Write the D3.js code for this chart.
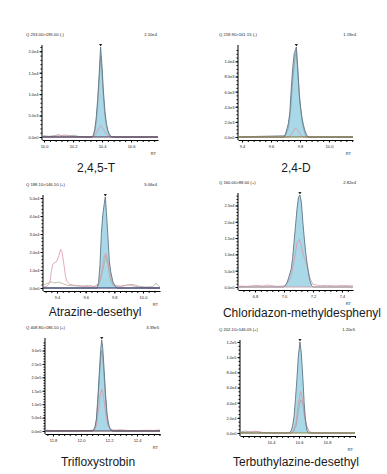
<!DOCTYPE html>
<html>
<head>
<meta charset="utf-8">
<script src="https://cdnjs.cloudflare.com/ajax/libs/d3/7.8.5/d3.min.js"></script>
<style>
body{margin:0;background:#fff;}
svg{display:block;font-family:"Liberation Sans",Arial,sans-serif;}
</style>
</head>
<body>
<svg id="chart" width="387" height="474"></svg>
<script>
// compound names, MRM transitions and header maxima
var titles = ["2,4,5-T", "2,4-D", "Atrazine-desethyl", "Chloridazon-methyldesphenyl", "Trifloxystrobin", "Terbuthylazine-desethyl"];
var transitions = ["Q 253.00>195.00 (-)", "Q 218.90>161.15 (-)", "Q 188.10>146.10 (+)", "Q 160.00>88.00 (+)", "Q 408.80>186.10 (+)", "Q 202.10>146.05 (+)"];
var maxLabels = ["2.10e4", "1.19e4", "5.06e4", "2.82e4", "3.39e5", "1.20e5"];
var yMax = [2.10e4, 1.19e4, 5.06e4, 2.82e4, 3.39e5, 1.20e5];
var yTickStep = [5e3, 2e3, 1e4, 5e3, 5e4, 2e4];
var rtRange = [[9.986, 10.786], [9.372, 10.166], [9.302, 10.119], [6.683, 7.476], [11.743, 12.564], [10.179, 11.0]];
var xTicks = [[10.0, 10.2, 10.4, 10.6], [9.4, 9.6, 9.8, 10.0], [9.4, 9.6, 9.8, 10.0], [6.8, 7.0, 7.2, 7.4], [11.8, 12.0, 12.2, 12.4], [10.4, 10.6, 10.8]];
var apexRT = [10.39, 9.775, 9.737, 7.11, 12.148, 10.607];

// [RT, intensity] — quantifier (filled), pink qualifier, grey trace
var quant1 = [[9.986,0],[10.33,0],[10.34,400],[10.35,1800],[10.36,4500],[10.37,8800],[10.38,14500],[10.39,21000],[10.40,16500],[10.41,10500],[10.42,6000],[10.43,3200],[10.44,1600],[10.45,700],[10.46,250],[10.47,0],[10.786,0]];
var pink1 = [[9.986,200],[10.05,100],[10.10,300],[10.13,200],[10.17,250],[10.20,100],[10.33,0],[10.35,300],[10.37,1400],[10.39,2700],[10.41,1800],[10.43,700],[10.45,150],[10.47,0],[10.786,0]];
var grey1 = [[9.986,300],[10.03,150],[10.07,300],[10.10,550],[10.12,350],[10.15,450],[10.18,300],[10.21,400],[10.24,100],[10.30,0],[10.34,200],[10.35,1200],[10.36,3500],[10.37,7500],[10.38,13000],[10.39,19000],[10.40,14500],[10.41,9000],[10.42,5000],[10.43,2500],[10.44,1200],[10.45,400],[10.46,100],[10.48,0],[10.786,0]];

var quant2 = [[9.372,0],[9.69,0],[9.70,400],[9.71,1100],[9.72,1800],[9.73,3300],[9.74,6500],[9.75,9200],[9.76,11000],[9.775,11900],[9.785,9000],[9.795,5600],[9.805,3800],[9.815,2400],[9.825,1500],[9.835,800],[9.845,300],[9.857,0],[10.166,0]];
var pink2 = [[9.372,0],[9.72,0],[9.74,300],[9.755,800],[9.77,1200],[9.785,900],[9.80,400],[9.82,0],[10.166,0]];
var grey2 = [[9.372,0],[9.70,200],[9.72,1200],[9.735,3500],[9.75,7500],[9.765,10500],[9.775,11300],[9.785,8500],[9.80,4500],[9.815,2000],[9.83,700],[9.845,0],[10.166,0]];

var quant3 = [[9.302,0],[9.68,0],[9.69,3000],[9.70,13000],[9.71,31000],[9.72,41000],[9.73,47000],[9.737,50600],[9.745,42000],[9.755,29000],[9.765,15000],[9.775,9000],[9.79,3500],[9.805,1000],[9.82,0],[10.119,0]];
var pink3 = [[9.302,500],[9.33,1000],[9.35,3000],[9.36,9000],[9.37,13000],[9.38,14000],[9.395,14500],[9.41,17000],[9.425,21500],[9.435,20000],[9.45,12000],[9.46,6000],[9.47,3500],[9.49,2000],[9.52,1500],[9.56,1200],[9.60,800],[9.65,600],[9.69,1500],[9.71,8000],[9.73,18000],[9.74,19400],[9.755,15000],[9.77,8000],[9.785,3500],[9.80,1500],[9.85,800],[9.90,1800],[9.95,800],[10.0,300],[10.05,0],[10.119,0]];
var grey3 = [[9.302,1500],[9.33,2500],[9.36,3500],[9.38,2800],[9.41,3300],[9.44,2500],[9.47,1500],[9.52,1200],[9.58,1000],[9.62,1500],[9.66,800],[9.70,3000],[9.72,10000],[9.74,18000],[9.755,13000],[9.77,5000],[9.79,1500],[9.83,800],[9.88,1500],[9.93,2000],[9.97,1000],[10.02,500],[10.07,800],[10.09,2800],[10.11,1000],[10.119,500]];

var quant4 = [[6.683,0],[7.0,0],[7.01,500],[7.02,1200],[7.03,2500],[7.04,4000],[7.05,5500],[7.06,9000],[7.07,14000],[7.08,19000],[7.09,24000],[7.10,27500],[7.11,28200],[7.12,26000],[7.13,20000],[7.14,15000],[7.15,10500],[7.16,7000],[7.17,4000],[7.18,1800],[7.19,500],[7.20,0],[7.476,0]];
var pink4 = [[6.683,300],[6.75,200],[6.80,500],[6.86,300],[6.88,600],[6.95,200],[7.0,300],[7.03,1500],[7.05,3500],[7.07,8000],[7.09,13500],[7.105,14600],[7.12,12500],[7.135,9500],[7.15,8000],[7.165,5500],[7.18,2500],[7.20,800],[7.25,400],[7.30,500],[7.36,300],[7.40,500],[7.476,300]];
var grey4 = [];

var quant5 = [[11.743,0],[12.08,0],[12.09,4000],[12.10,15000],[12.11,45000],[12.12,120000],[12.13,210000],[12.14,300000],[12.148,339000],[12.155,310000],[12.165,230000],[12.175,140000],[12.185,70000],[12.195,30000],[12.205,12000],[12.215,4000],[12.225,0],[12.564,0]];
var pink5 = [[11.743,4000],[11.76,3000],[11.80,1500],[11.85,1000],[11.95,800],[12.05,1500],[12.09,3000],[12.11,20000],[12.125,80000],[12.14,140000],[12.15,155000],[12.16,130000],[12.175,70000],[12.19,25000],[12.21,6000],[12.24,3000],[12.28,5000],[12.33,2000],[12.40,1500],[12.47,3000],[12.52,2000],[12.564,4000]];
var grey5 = [[11.743,0],[12.09,2000],[12.10,10000],[12.11,40000],[12.12,105000],[12.13,190000],[12.14,270000],[12.148,300000],[12.155,275000],[12.165,200000],[12.175,120000],[12.185,55000],[12.195,20000],[12.21,5000],[12.23,0],[12.564,0]];

var quant6 = [[10.179,0],[10.53,0],[10.545,3000],[10.555,10000],[10.565,22000],[10.575,45000],[10.585,70000],[10.595,100000],[10.607,120000],[10.617,105000],[10.627,75000],[10.637,40000],[10.647,15000],[10.657,3000],[10.667,0],[11.0,0]];
var pink6 = [[10.179,0],[10.25,1500],[10.28,2500],[10.31,1500],[10.35,500],[10.40,800],[10.45,300],[10.54,0],[10.56,3000],[10.58,15000],[10.595,40000],[10.612,55000],[10.625,45000],[10.64,25000],[10.655,10000],[10.67,3000],[10.69,500],[10.72,0],[11.0,0]];
var grey6 = [[10.179,1500],[10.22,2500],[10.26,1000],[10.30,2000],[10.34,500],[10.40,0],[10.55,0],[10.565,3000],[10.58,10000],[10.595,28000],[10.61,44000],[10.625,40000],[10.64,22000],[10.655,8000],[10.67,2000],[10.69,0],[11.0,0]];

var quants = [quant1, quant2, quant3, quant4, quant5, quant6];
var pinks = [pink1, pink2, pink3, pink4, pink5, pink6];
var greys = [grey1, grey2, grey3, grey4, grey5, grey6];

// plot boxes in pixels
var boxes = [
	{left:42, right:158, top:47, base:137, hx:26, mx:157, tx:96, ty:172},
	{left:238, right:353, top:47, base:137, hx:219, mx:356, tx:296, ty:172},
	{left:43, right:160, top:197, base:288, hx:26, mx:157, tx:95, ty:316},
	{left:238, right:353, top:195, base:287, hx:219, mx:356, tx:302, ty:316.5},
	{left:45, right:160, top:340, base:431, hx:26, mx:159, tx:98, ty:466},
	{left:240, right:355, top:342, base:433, hx:219, mx:355, tx:296, ty:466}
];
var baseColors = ["#4e3350", "#7d7335", "#27275e", "#c7a6ad", "#503848", "#8d8440"];
var greyColors = ["#9aa0a4", "#8e9aa0", "#a9b39a", "#9aa0a4", "#8e9aa0", "#9aa0a4"];

var svg = d3.select("#chart");

function fmtExp(v){
	return v.toExponential(1).replace("+","");
}

function stepsBetween(lo,hi,step){
	var out=[];
	for(var k=Math.ceil(lo/step-1e-9);k*step<=hi+1e-9;k++){
		out.push(+(k*step).toPrecision(8));
	}
	return out;
}

function drawPanel(i){
	var b = boxes[i];
	var g = svg.append("g").attr("class","panel");

	var x = d3.scaleLinear().domain(rtRange[i]).range([b.left,b.right]);
	var y = d3.scaleLinear().domain([0,yMax[i]]).range([b.base,b.top]);

	// header
	g.append("text")
	.attr("x",b.hx).attr("y",b.top-11.5)
	.attr("font-size",4.2).attr("fill","#222")
	.text(transitions[i]);
	g.append("text")
	.attr("x",b.mx).attr("y",b.top-11.5)
	.attr("font-size",4.2).attr("fill","#222")
	.attr("text-anchor","end")
	.text(maxLabels[i]);

	// y axis
	var step = yTickStep[i];
	var mant = Math.round(step/Math.pow(10,Math.floor(Math.log10(step))));
	var minorStep = mant==2 ? step/4 : step/5;
	var yAxis = d3.axisLeft(y)
	.tickValues(stepsBetween(0,yMax[i],step))
	.tickFormat(fmtExp)
	.tickSize(2.5)
	.tickSizeOuter(0);
	var yMinor = d3.axisLeft(y)
	.tickValues(stepsBetween(0,yMax[i],minorStep))
	.tickFormat("")
	.tickSize(1.5)
	.tickSizeOuter(0);

	var ya = g.append("g").attr("transform","translate("+b.left+",0)").call(yAxis);
	g.append("g").attr("transform","translate("+b.left+",0)").call(yMinor).select(".domain").remove();
	ya.select(".domain").remove();
	ya.selectAll("text").attr("font-size",4).attr("fill","#222").attr("font-family","Liberation Sans, Arial, sans-serif").attr("x",-3.5).attr("dy","0.35em");
	ya.selectAll("line").attr("stroke","#000");
	g.append("line")
	.attr("x1",b.left).attr("x2",b.left)
	.attr("y1",b.base+3).attr("y2",b.top-2)
	.attr("stroke","#000").attr("stroke-width",1);

	// x axis, sitting a few px under the zero line
	var xAxis = d3.axisBottom(x)
	.tickValues(xTicks[i])
	.tickFormat(d3.format(".1f"))
	.tickSize(2.5)
	.tickSizeOuter(0);
	var xMinor = d3.axisBottom(x)
	.tickValues(stepsBetween(rtRange[i][0],rtRange[i][1],0.04))
	.tickFormat("")
	.tickSize(2)
	.tickSizeOuter(0);
	var xa = g.append("g").attr("transform","translate(0,"+(b.base+3)+")").call(xAxis);
	g.append("g").attr("transform","translate(0,"+(b.base+3)+")").call(xMinor).select(".domain").remove();
	xa.select(".domain").attr("stroke","#000");
	xa.selectAll("text").attr("font-size",4).attr("fill","#222").attr("font-family","Liberation Sans, Arial, sans-serif").attr("y",5);

	g.append("text")
	.attr("x",b.right-2).attr("y",b.base+17.5)
	.attr("font-size",4).attr("fill","#222")
	.attr("text-anchor","end")
	.text("RT");

	// traces
	var line = d3.line().x(function(d){return x(d[0]);}).y(function(d){return y(d[1]);});
	var area = d3.area().x(function(d){return x(d[0]);}).y0(y(0)).y1(function(d){return y(d[1]);});

	g.append("path").datum(quants[i])
	.attr("d",area)
	.attr("fill","#a9d8e8");

	if(greys[i].length){
		g.append("path").datum(greys[i])
		.attr("d",line)
		.attr("fill","none")
		.attr("stroke",greyColors[i])
		.attr("stroke-width",0.8);
	}
	g.append("path").datum(pinks[i])
	.attr("d",line)
	.attr("fill","none")
	.attr("stroke","#dc98a6")
	.attr("stroke-width",0.8);

	g.append("path").datum(quants[i])
	.attr("d",line)
	.attr("fill","none")
	.attr("stroke","#5f7686")
	.attr("stroke-width",0.9);

	// zero line
	g.append("path").datum(rtRange[i].map(function(t){return [t,0];}))
	.attr("d",line)
	.attr("stroke",baseColors[i])
	.attr("stroke-width",1.1);

	// apex marker
	var ax = x(apexRT[i]), ay = y(yMax[i]);
	g.append("path")
	.attr("d","M"+(ax-1.6)+","+(ay-3)+"L"+(ax+1.6)+","+(ay-3)+"L"+ax+","+(ay-0.5)+"Z")
	.attr("fill","#222");

	// compound name
	g.append("text")
	.attr("x",b.tx).attr("y",b.ty)
	.attr("font-size",12).attr("fill","#1a1a1a")
	.attr("text-anchor","middle")
	.text(titles[i]);
}

for(var i=0;i<6;i++){
	drawPanel(i);
}
</script>
</body>
</html>
